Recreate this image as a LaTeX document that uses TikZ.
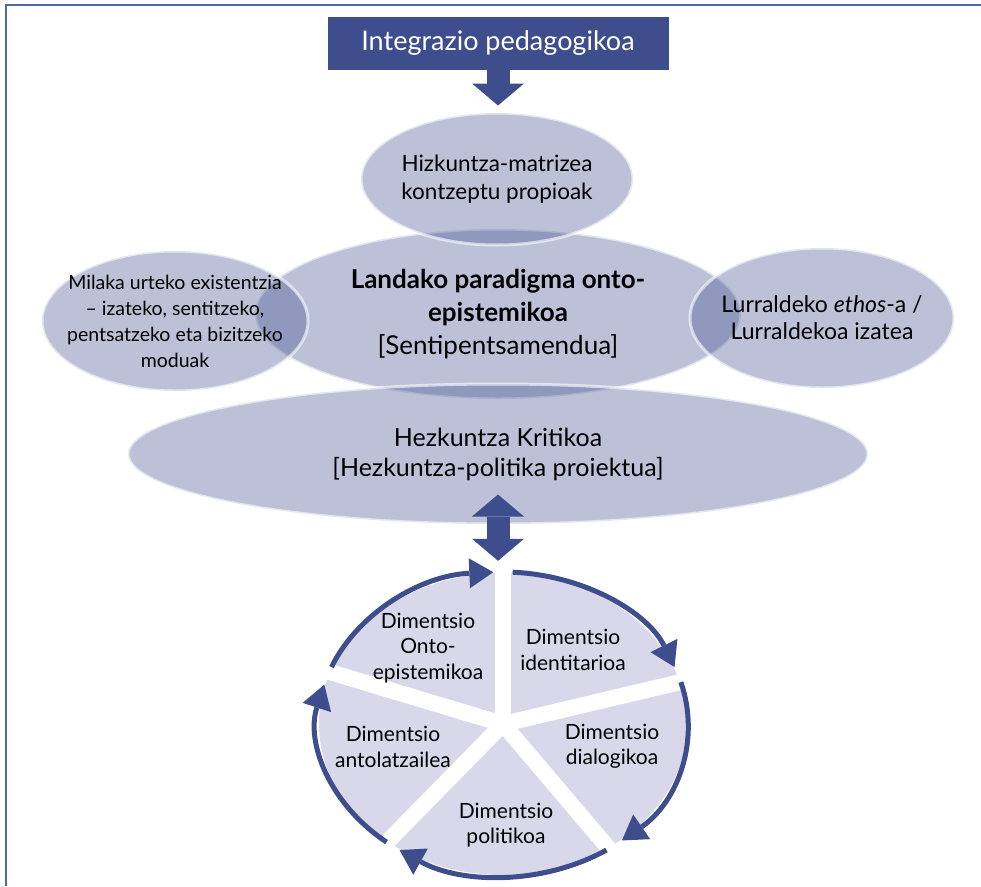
\documentclass[tikz,border=0pt]{standalone}
\usepackage{fontspec}
\setmainfont{Lato}
\usetikzlibrary{shapes.geometric,arrows.meta}

\definecolor{navy}{RGB}{62,78,140}
\definecolor{lilac}{RGB}{216,216,234}
\definecolor{framecol}{RGB}{84,102,170}

\tikzset{
  bubble/.style={ellipse, inner sep=-80pt, align=center, fill=navy, fill opacity=.35,
    draw=white, draw opacity=.6, line width=3pt, text opacity=1},
  blockarrow/.style={navy, line width=23pt, -{Triangle[length=22pt,width=52pt,line width=0pt]}},
  dblarrow/.style={navy, line width=23pt,
    {Triangle[length=22pt,width=52pt,line width=0pt]}-{Triangle[length=22pt,width=52pt,line width=0pt]}},
  cyclearrow/.style={navy, line width=5pt, -{Triangle[length=24pt,width=30pt,line width=0pt]}},
  dimtext/.style={align=center, font=\fontsize{21}{25.5}\selectfont}
}

\begin{document}
\begin{tikzpicture}[x=1pt, y=-1pt]
    \useasboundingbox (0,0) rectangle (981,886);
    \draw [framecol, line width=2pt] (6,886) -- (6,5) -- (981,5);

    \node[fill=navy, text=white, minimum width=341pt, minimum height=53pt,
      font=\fontsize{27}{30}\selectfont] (title) at (498,43.5) {Integrazio pedagogikoa};

    \node[bubble, minimum width=486pt, minimum height=170pt, font=\fontsize{26}{33}\selectfont]
      (onto) at (498,314) {\textbf{Landako paradigma onto-}\\\textbf{epistemikoa}\\{}[Sentipentsamendua]};
    \node[bubble, minimum width=272pt, minimum height=132pt, font=\fontsize{22.5}{28.5}\selectfont]
      (hiz) at (497,179) {Hizkuntza-matrizea\\kontzeptu propioak};
    \node[bubble, minimum width=266pt, minimum height=140pt, font=\fontsize{19.5}{26}\selectfont]
      (milaka) at (175,321) {Milaka urteko existentzia\\– izateko, sentitzeko,\\pentsatzeko eta bizitzeko\\moduak};
    \node[bubble, minimum width=264pt, minimum height=140pt, font=\fontsize{23}{27}\selectfont]
      (lurr) at (822,318) {Lurraldeko \textit{ethos}-a /\\Lurraldekoa izatea};
    \node[bubble, minimum width=740pt, minimum height=140pt, font=\fontsize{25}{30}\selectfont]
      (hezk) at (498,454) {Hezkuntza Kritikoa\\{}[Hezkuntza-politika proiektua]};

    \draw [blockarrow] (title.south) -- ([yshift=6pt]title.south |- hiz.north);

    \node[ellipse, fill=lilac, inner sep=0pt, minimum width=368pt, minimum height=302pt]
      (cyc) at (503,724) {};
    \draw [dblarrow] ([yshift=31pt]hezk.south) -- ([yshift=12pt]hezk.south |- cyc.north);

    \begin{scope}[shift={(cyc.center)}]
      \foreach \a in {90,16,-55,-129,160}
        \draw [white, line width=16pt] (0,0) -- (\a:188pt and 155pt);
      \foreach \s/\e in {158/93, 87/22, 16/-50, -56/-124, -129/-195}
        \draw [cyclearrow] (\s:185pt and 152pt) arc[start angle=\s, end angle=\e, x radius=185pt, y radius=152pt];
    \end{scope}

    \node[dimtext] (ontodim) at (428,648) {Dimentsio\\Onto-\\epistemikoa};
    \node[dimtext] (identdim) at (573,650) {Dimentsio\\identitarioa};
    \node[dimtext] (dialdim) at (612,746) {Dimentsio\\dialogikoa};
    \node[dimtext] (politdim) at (506,825) {Dimentsio\\politikoa};
    \node[dimtext] (antoldim) at (393,747) {Dimentsio\\antolatzailea};
\end{tikzpicture}
\end{document}
